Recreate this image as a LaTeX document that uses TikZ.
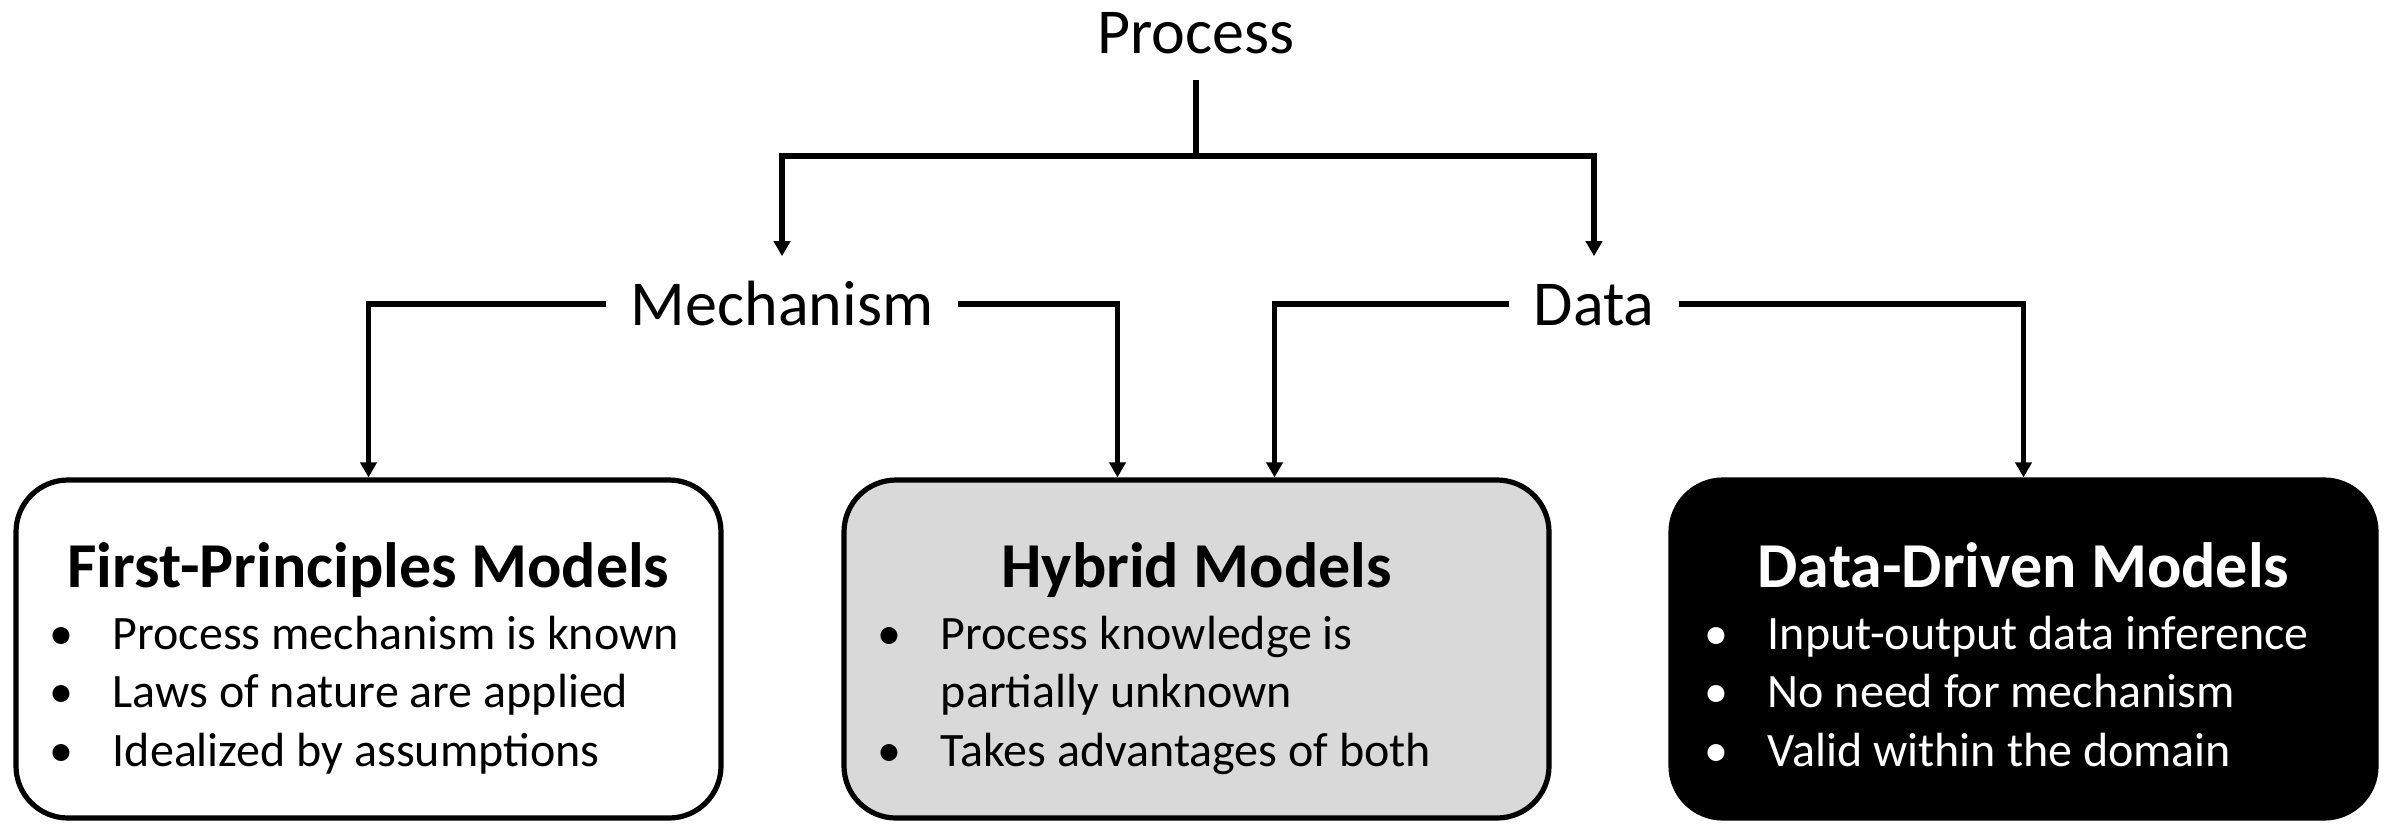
\documentclass[tikz,border=0pt]{standalone}
\usepackage{fontspec}
\setmainfont{Carlito}
\usetikzlibrary{arrows.meta,calc}
\definecolor{hybridgray}{HTML}{D9D9D9}
\tikzset{
  conn/.style={line width=1.3pt, draw=black},
  arr/.style={conn, -{Triangle[width=4pt,length=3.75pt]}},
  branch/.style={font=\fontsize{16}{19}\selectfont, text height=10.5pt, text depth=0pt, inner xsep=6pt, inner ysep=6.5pt},
  toplabel/.style={font=\fontsize{16}{19}\selectfont, anchor=base, inner sep=0pt},
  modelbox/.style={rounded corners=13pt, line width=1.3pt, draw=black, minimum width=176.25pt, minimum height=84.5pt, inner sep=0pt},
  boxtitle/.style={font=\bfseries\fontsize{16}{19}\selectfont, anchor=base, inner sep=0pt},
  bulletmark/.style={font=\fontsize{12}{14.6}\selectfont, anchor=base, inner sep=0pt},
  itemtext/.style={font=\fontsize{12}{14.6}\selectfont, anchor=base west, inner sep=0pt},
}
\begin{document}
\begin{tikzpicture}[x=0.25pt,y=-0.25pt]
\useasboundingbox (0,0) rectangle (2384,824);

% top of the tree
\node[toplabel] (proc) at (1196,53) {Process};
\coordinate (procfoot) at (1196,80);
\coordinate (fork) at (1196,156);

% second level
\node[branch] (mech) at (782,304) {Mechanism};
\node[branch] (data) at (1594,304) {Data};

% model boxes
\node[modelbox, fill=white] (b1) at (368.5,649) {};
\node[modelbox, fill=hybridgray] (b2) at (1196.5,649) {};
\node[modelbox, fill=black] (b3) at (2023.5,649) {};

% connectors
\draw[conn] (procfoot) -- (fork);
\draw[arr] (fork) -| (mech.north);
\draw[arr] (fork) -| (data.north);
\draw[arr] (mech.west) -| (b1.north);
\draw[arr] (mech.east) -| ($(b2.north)+(-79,0)$);
\draw[arr] (data.west) -| ($(b2.north)+(78,0)$);
\draw[arr] (data.east) -| (b3.north);

% first-principles box
\node[boxtitle] (t1) at (368.5,587) {First-Principles Models};
\node[bulletmark] (p1a) at (61,649) {•};
\node[itemtext] (i1a) at (112,649) {Process mechanism is known};
\node[bulletmark] (p1b) at (61,707.5) {•};
\node[itemtext] (i1b) at (112,707.5) {Laws of nature are applied};
\node[bulletmark] (p1c) at (61,766) {•};
\node[itemtext] (i1c) at (112,766) {Idealized by assumptions};

% hybrid box
\node[boxtitle] (t2) at (1196.5,587) {Hybrid Models};
\node[bulletmark] (p2a) at (889,649) {•};
\node[itemtext] (i2a) at (940,649) {Process knowledge is};
\node[itemtext] (i2b) at (940,707.5) {partially unknown};
\node[bulletmark] (p2c) at (889,766) {•};
\node[itemtext] (i2c) at (940,766) {Takes advantages of both};

% data-driven box
\node[boxtitle, text=white] (t3) at (2023.5,587) {Data-Driven Models};
\node[bulletmark, text=white] (p3a) at (1716,649) {•};
\node[itemtext, text=white] (i3a) at (1767,649) {Input-output data inference};
\node[bulletmark, text=white] (p3b) at (1716,707.5) {•};
\node[itemtext, text=white] (i3b) at (1767,707.5) {No need for mechanism};
\node[bulletmark, text=white] (p3c) at (1716,766) {•};
\node[itemtext, text=white] (i3c) at (1767,766) {Valid within the domain};
\end{tikzpicture}
\end{document}
